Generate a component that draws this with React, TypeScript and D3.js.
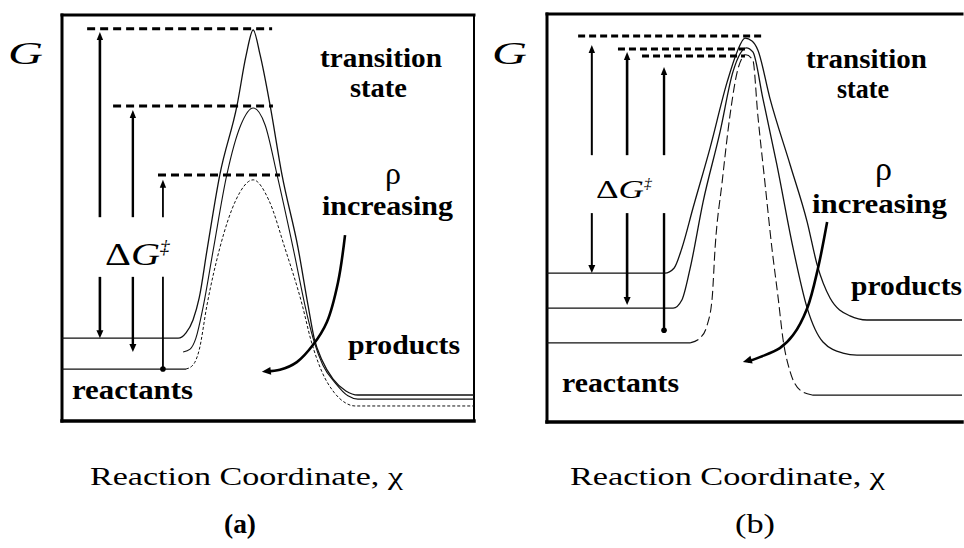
import React, { useEffect, useRef } from 'react';
import * as d3 from 'd3';

type Pt = [number, number];

// reaction coordinate 0-100 across each frame, G 0-100 from bottom to top of each frame

// panel (a)
const curveA1: Pt[] = [
  [0, 20.4], [28.2, 20.4], [30.1, 21.7], [31.8, 24.9], [33.3, 30.3], [35.2, 42.1], [38.3, 60.6],
  [42.5, 77.8], [44.7, 90.1], [46.4, 96.3], [48.1, 90.1], [50.5, 77.8], [53.4, 60.6], [57.3, 42.6],
  [59.7, 28.6], [61.2, 20.4], [63.1, 15.0], [65.8, 10.3], [68.9, 7.4], [71.8, 6.4], [100, 6.4],
];
const curveA2: Pt[] = [
  [29.4, 17.0], [31.1, 17.7], [32.5, 20.4], [34.2, 27.8], [36.7, 42.1], [40.0, 60.6], [43.4, 72.9],
  [46.4, 77.1], [49.3, 72.9], [52.2, 60.6], [56.1, 42.6], [59.5, 26.1], [61.2, 19.5], [63.3, 13.8],
  [66.3, 9.4], [69.4, 6.2], [71.8, 5.4], [100, 5.4],
];
const curveA3Reactants: Pt[] = [[0, 12.8], [30.1, 12.8]];
const curveA3: Pt[] = [
  [30.1, 12.8], [31.8, 13.8], [33.3, 17.5], [35.2, 28.6], [38.3, 42.6], [42.2, 54.4], [46.4, 59.4],
  [50.2, 54.4], [54.1, 42.6], [58.3, 28.6], [60.4, 20.0], [63.1, 12.1], [66.0, 7.1],
  [68.9, 4.4], [71.1, 3.7], [100, 3.7],
];
const tsLevelsA = [96.6, 77.6, 60.6];
const tsStartA = [6.1, 12.4, 23.3];
const tsEndA = [51.0, 51.2, 52.9];
const arrowXA = [9.2, 17.2, 24.5];
const arrowTopA = [95.8, 76.6, 59.4];
const arrowBottomA = [20.4, 17.0, 12.8];
const rhoArrowA: Pt[] = [
  [48.5, 12.1], [52.9, 12.6], [57.0, 14.5], [60.9, 18.7], [64.3, 24.4], [67.0, 34.2], [68.7, 45.8],
];

// panel (b)
const curveB1: Pt[] = [
  [0, 36.5], [28.4, 36.5], [30.6, 37.7], [32.5, 42.6], [35.2, 52.5], [39.3, 67.2], [43.4, 83.3],
  [45.8, 90.7], [47.7, 94.1], [49.4, 93.4], [50.8, 91.2], [53.7, 79.4], [58.6, 63.0], [62.7, 49.0],
  [65.1, 38.5], [68.2, 30.4], [73.0, 26.0], [77.1, 25.0], [100, 25.0],
];
const curveB2: Pt[] = [
  [0, 27.9], [30.4, 27.9], [32.5, 29.9], [34.5, 37.7], [37.6, 53.9], [41.7, 71.1], [44.8, 85.8],
  [46.5, 90.2], [48.0, 91.7], [49.6, 90.7], [52.0, 79.4], [55.4, 63.0], [59.3, 42.6], [62.7, 27.9],
  [66.5, 19.6], [71.3, 16.9], [74.7, 16.4], [100, 16.4],
];
const curveB3Reactants: Pt[] = [[0, 19.4], [34.5, 19.4]];
const curveB3: Pt[] = [
  [34.5, 19.4], [36.9, 20.6], [38.6, 23.8], [39.8, 30.4], [40.5, 42.6], [42.2, 58.8], [44.1, 75.2],
  [46.0, 86.5], [47.9, 90.0], [49.6, 88.7], [50.8, 75.2], [52.5, 58.8], [54.2, 42.6], [55.7, 30.4],
  [56.9, 20.1], [58.6, 12.3], [61.0, 7.8], [63.9, 6.6],
];
const curveB3Products: Pt[] = [[63.9, 6.6], [100, 6.6]];
const tsLevelsB = [94.6, 91.4, 89.7];
const tsStartB = [7.5, 17.1, 22.9];
const tsEndB = [51.8, 47.7, 47.7];
const arrowXB = [10.8, 19.3, 28.2];
const arrowTopB = [92.4, 90.7, 87.0];
const arrowBottomB = [36.5, 28.7, 22.5];
const rhoArrowB: Pt[] = [
  [47.2, 14.7], [51.3, 15.9], [56.1, 18.1], [59.3, 21.3], [62.7, 27.9], [65.3, 37.7], [67.5, 49.0],
];

const FONT = '"Liberation Serif", "Times New Roman", serif';

interface Label { text: string; x: number; y: number; w?: number; size: number; bold?: boolean; italic?: boolean }

interface PanelSpec {
  frame: { left: number; top: number; right: number; bottom: number };
  rightBorder: boolean;
  curves: { pts: Pt[]; dash?: string; width: number }[];
  tsLevels: number[]; tsStart: number[]; tsEnd: number[]; tsDash: string;
  arrowX: number[]; arrowTop: number[]; arrowBottom: number[];
  gapTop: number; gapBottom: number; arrowWidths: number[];
  rhoArrow: Pt[];
  labels: Label[];
  delta: { x: number; y: number; w: number; size: number };
}

const panels: PanelSpec[] = [
  {
    frame: { left: 62, top: 15, right: 474, bottom: 421 },
    rightBorder: true,
    curves: [
      { pts: curveA1, width: 1.3 },
      { pts: curveA2, width: 1.1 },
      { pts: curveA3Reactants, width: 1.2 },
      { pts: curveA3, width: 1.0, dash: '3,2' },
    ],
    tsLevels: tsLevelsA, tsStart: tsStartA, tsEnd: tsEndA, tsDash: '8,5',
    arrowX: arrowXA, arrowTop: arrowTopA, arrowBottom: arrowBottomA,
    gapTop: 50.2, gapBottom: 35.5, arrowWidths: [2.6, 2.4, 1.8],
    rhoArrow: rhoArrowA,
    labels: [
      { text: 'transition', x: 320, y: 67, w: 122, size: 27, bold: true },
      { text: 'state', x: 350, y: 97, w: 57, size: 27, bold: true },
      { text: 'ρ', x: 385, y: 184, size: 32 },
      { text: 'increasing', x: 322, y: 215, w: 131, size: 27, bold: true },
      { text: 'products', x: 348, y: 354, w: 112, size: 27, bold: true },
      { text: 'reactants', x: 72, y: 399, w: 121, size: 27, bold: true },
      { text: 'Reaction Coordinate, χ', x: 90, y: 485, w: 313, size: 26 },
      { text: '(a)', x: 224, y: 533, w: 32, size: 28, bold: true },
      { text: 'G', x: 8, y: 64, w: 35, size: 32, italic: true },
    ],
    delta: { x: 105, y: 265, w: 55, size: 32 },
  },
  {
    frame: { left: 547, top: 14, right: 962, bottom: 422 },
    rightBorder: false,
    curves: [
      { pts: curveB1, width: 1.3 },
      { pts: curveB2, width: 1.3 },
      { pts: curveB3Reactants, width: 1.2 },
      { pts: curveB3, width: 1.1, dash: '9,4' },
      { pts: curveB3Products, width: 1.2 },
    ],
    tsLevels: tsLevelsB, tsStart: tsStartB, tsEnd: tsEndB, tsDash: '7,4',
    arrowX: arrowXB, arrowTop: arrowTopB, arrowBottom: arrowBottomB,
    gapTop: 65.4, gapBottom: 51.2, arrowWidths: [2.0, 2.6, 2.4],
    rhoArrow: rhoArrowB,
    labels: [
      { text: 'transition', x: 806, y: 68, w: 121, size: 27, bold: true },
      { text: 'state', x: 837, y: 98, w: 52, size: 27, bold: true },
      { text: 'ρ', x: 875, y: 180, size: 34 },
      { text: 'increasing', x: 812, y: 213, w: 135, size: 27, bold: true },
      { text: 'products', x: 851, y: 295, w: 111, size: 27, bold: true },
      { text: 'reactants', x: 562, y: 392, w: 117, size: 27, bold: true },
      { text: 'Reaction Coordinate, χ', x: 570, y: 485, w: 315, size: 26 },
      { text: '(b)', x: 735, y: 533, w: 40, size: 28 },
      { text: 'G', x: 492, y: 64, w: 35, size: 32, italic: true },
    ],
    delta: { x: 596, y: 198, w: 48, size: 26 },
  },
];

function arrowHead(g: any, tx: number, ty: number, fx: number, fy: number, len: number, half: number) {
  const a = Math.atan2(ty - fy, tx - fx);
  const bx = tx - len * Math.cos(a);
  const by = ty - len * Math.sin(a);
  const px = -Math.sin(a) * half;
  const py = Math.cos(a) * half;
  g.append('path')
    .attr('d', `M${tx},${ty}L${bx + px},${by + py}L${bx - px},${by - py}Z`)
    .attr('fill', '#000');
}

function drawPanel(svg: any, p: PanelSpec) {
  const { left, top, right, bottom } = p.frame;
  const x = d3.scaleLinear().domain([0, 100]).range([left, right]);
  const y = d3.scaleLinear().domain([0, 100]).range([bottom, top]);
  const g = svg.append('g');

  // frame
  const border = [
    [left, top, right, top, 3],
    [left, top, left, bottom, 3],
    [left, bottom, right, bottom, 3.5],
  ];
  if (p.rightBorder) border.push([right, top, right, bottom, 2]);
  border.forEach(([x1, y1, x2, y2, w]) => {
    g.append('line').attr('x1', x1).attr('y1', y1).attr('x2', x2).attr('y2', y2)
      .attr('stroke', '#000').attr('stroke-width', w).attr('stroke-linecap', 'square');
  });

  const line = d3.line<Pt>().x(d => x(d[0])).y(d => y(d[1])).curve(d3.curveMonotoneX);
  p.curves.forEach(c => {
    g.append('path')
      .attr('d', line(c.pts))
      .attr('fill', 'none')
      .attr('stroke', '#111')
      .attr('stroke-width', c.width)
      .attr('stroke-dasharray', c.dash || null);
  });

  // transition state levels
  p.tsLevels.forEach((lv, i) => {
    g.append('line')
      .attr('x1', x(p.tsStart[i])).attr('x2', x(p.tsEnd[i]))
      .attr('y1', y(lv)).attr('y2', y(lv))
      .attr('stroke', '#000').attr('stroke-width', 3)
      .attr('stroke-dasharray', p.tsDash);
  });

  // delta G arrows
  p.arrowX.forEach((ax, i) => {
    const px = x(ax);
    const w = p.arrowWidths[i];
    const tipTop = y(p.arrowTop[i]);
    const tipBottom = y(p.arrowBottom[i]);
    g.append('line').attr('x1', px).attr('x2', px).attr('y1', tipTop + 6).attr('y2', y(p.gapTop))
      .attr('stroke', '#000').attr('stroke-width', w);
    arrowHead(g, px, tipTop, px, tipTop + 10, 8, 3.2);
    const last = i === p.arrowX.length - 1;
    g.append('line').attr('x1', px).attr('x2', px).attr('y1', y(p.gapBottom))
      .attr('y2', last ? tipBottom : tipBottom - 6)
      .attr('stroke', '#000').attr('stroke-width', w);
    if (last) {
      g.append('circle').attr('cx', px).attr('cy', tipBottom).attr('r', 2.8).attr('fill', '#000');
    } else {
      arrowHead(g, px, tipBottom, px, tipBottom - 10, 8, 3.5);
    }
  });

  // rho increasing arrow
  const rho = d3.line<Pt>().x(d => x(d[0])).y(d => y(d[1])).curve(d3.curveCatmullRom);
  const tail = p.rhoArrow.slice(1);
  g.append('path').attr('d', rho([[p.rhoArrow[0][0] + 1.2, p.rhoArrow[0][1] + 0.1], ...tail]))
    .attr('fill', 'none').attr('stroke', '#000').attr('stroke-width', 2.6);
  const tip = p.rhoArrow[0];
  const from = p.rhoArrow[1];
  arrowHead(g, x(tip[0]), y(tip[1]), x(from[0]), y(from[1]), 9, 4);

  // labels
  p.labels.forEach(l => {
    const t = g.append('text')
      .attr('x', l.x).attr('y', l.y)
      .attr('font-family', FONT)
      .attr('font-size', l.size)
      .attr('font-weight', l.bold ? 'bold' : 'normal')
      .attr('font-style', l.italic ? 'italic' : 'normal')
      .attr('fill', '#000')
      .text(l.text);
    if (l.w) t.attr('textLength', l.w).attr('lengthAdjust', 'spacingAndGlyphs');
  });

  const d = p.delta;
  const dt = g.append('text')
    .attr('x', d.x).attr('y', d.y)
    .attr('font-family', FONT).attr('font-size', d.size)
    .attr('textLength', d.w).attr('lengthAdjust', 'spacingAndGlyphs')
    .attr('fill', '#000');
  dt.append('tspan').text('Δ');
  dt.append('tspan').attr('font-style', 'italic').text('G');
  g.append('text')
    .attr('x', d.x + d.w).attr('y', d.y - d.size * 0.38)
    .attr('font-family', FONT).attr('font-size', d.size * 0.6)
    .attr('font-style', 'italic')
    .attr('fill', '#000')
    .text('‡');
}

export default function App() {
  const svgRef = useRef<SVGSVGElement>(null);

  useEffect(() => {
    if (!svgRef.current) return;
    const svg = d3.select(svgRef.current);
    svg.selectAll('*').remove();
    svg.append('rect').attr('width', 964).attr('height', 548).attr('fill', '#fff');
    panels.forEach(p => drawPanel(svg, p));
  }, []);

  return (
    <svg
      ref={svgRef}
      width={964}
      height={548}
      style={{ position: 'absolute', left: 0, top: 0, background: '#fff' }}
    />
  );
}
